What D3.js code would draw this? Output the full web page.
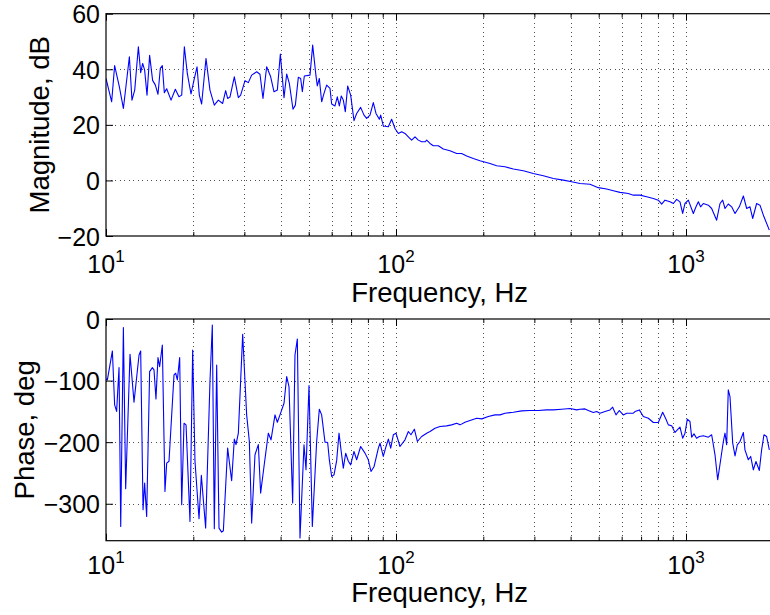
<!DOCTYPE html>
<html><head><meta charset="utf-8">
<script src="https://cdn.jsdelivr.net/npm/d3@7"></script>
<style>
body{margin:0;background:#fff}
svg{display:block}
text{font-family:"Liberation Sans",Arial,Helvetica,sans-serif;fill:#000}
</style>
</head><body>
<svg id="c" width="770" height="615"></svg>
<script>
// ---------- data ----------
const magFreq=[10.0,10.46,10.71,11.12,11.48,12.04,12.29,12.56,12.93,13.17,13.38,13.59,13.85,14.14,14.48,14.80,15.11,15.39,15.64,15.89,16.19,16.76,17.34,17.85,18.24,18.63,19.07,19.64,20.11,20.60,20.98,21.37,22.12,22.83,23.63,24.40,25.25,25.86,26.27,26.76,27.70,28.60,29.13,30.15,30.96,31.79,33.08,33.96,34.78,35.81,36.97,37.96,38.98,39.92,41.10,41.98,42.87,44.14,44.97,46.05,46.91,47.54,48.29,50.52,51.60,52.98,53.54,54.40,55.42,56.46,57.66,59.21,60.0,61.6,62.75,63.76,64.78,65.82,66.88,68.13,69.77,71.64,73.17,75.53,77.56,79.22,81.34,83.52,85.31,87.61,88.54,90.4,94.1,96.6,99.2,101.9,104.6,107.4,110.3,113.2,116.3,119.4,122.6,125.9,127.6,131.0,134.5,139.9,145.6,153.5,161.9,168.4,175.3,184.8,194.8,210.9,222.4,237.6,253.9,274.8,297.5,322.1,348.8,377.6,403.4,431.0,466.6,498.5,532.6,561.6,592.1,632.6,658.2,694.0,731.7,771.5,802.7,824.3,846.4,880.7,904.3,928.5,953.4,973.8,992.0,1018.7,1060,1082.6,1103,1123,1147.5,1194,1226,1275.6,1310,1338,1363,1399,1437,1476,1527,1577,1619,1662,1698,1752,1799,1857,1938];
const magDb=[36.7,28.3,41.3,33.7,25.9,44.5,28.9,32.5,48.1,38.8,42.1,39.7,30.7,45.0,36.0,34.3,31.0,40.3,41.3,31.6,33.0,28.9,32.8,30.1,30.7,48.1,38.5,31.1,36.1,40.9,30.7,27.5,43.9,32.5,27.1,28.9,27.7,32.3,29.5,30.0,37.3,29.8,30.7,35.9,35.2,37.9,39.1,38.2,29.5,40.9,37.3,31.9,32.5,45.5,29.8,38.3,34.9,25.6,27.1,37.1,36.7,31.9,37.6,37.9,48.7,37.6,34.0,36.7,28.3,31.3,34.3,33.1,27.5,26.8,30.1,26.8,30.4,28.9,24.7,34.0,30.7,21.5,24.1,26.3,23.5,22.3,23.5,28.0,24.1,22.0,23.5,19.6,19.3,22.0,18.7,16.9,17.5,16.9,15.7,14.5,15.7,14.5,13.9,13.9,14.5,13.3,12.5,12.5,11.3,10.7,9.7,9.7,8.8,7.9,7.1,6.1,5.3,4.9,4.1,3.5,2.5,1.7,0.7,0.1,-0.5,-1.1,-1.4,-2.6,-3.1,-3.7,-4.3,-4.7,-5.3,-5.3,-5.9,-6.5,-7.1,-8.5,-7.1,-7.7,-8.3,-6.8,-7.7,-11.9,-8.3,-7.1,-11.9,-9.5,-7.7,-9.5,-8.3,-8.9,-10.1,-14.3,-8.3,-7.1,-10.1,-8.5,-9.5,-11.9,-9.5,-5.6,-10.1,-9.5,-13.7,-8.3,-8.9,-13.1,-17.9];

const phaseFreq=[10.0,10.11,10.52,10.71,10.88,11.09,11.24,11.48,11.69,12.10,12.49,13.00,13.17,13.42,13.59,13.81,14.14,14.45,14.64,14.87,15.11,15.31,15.64,15.97,16.19,16.49,17.16,17.39,17.62,17.95,18.24,18.58,18.88,19.48,19.90,20.27,20.93,21.32,22.06,22.83,23.26,23.63,24.08,24.53,25.05,25.39,26.27,27.12,27.70,28.07,28.60,29.60,30.55,31.21,31.79,32.64,33.52,34.14,35.06,36.29,37.07,38.26,38.98,39.81,41.10,41.98,42.76,44.02,44.84,45.69,46.66,48.17,48.94,50.12,51.46,53.26,54.40,55.42,56.90,58.12,58.90,60.0,61.13,62.43,63.60,64.61,65.82,67.06,68.50,69.77,71.64,73.17,75.53,78.18,80.27,81.99,83.97,86.92,88.1,90.4,92.4,94.1,95.9,97.9,100,103.2,107.4,110.3,112.6,115.7,118.5,122.6,127.6,131.0,136.3,141.8,149.4,155.5,161.9,166.3,172.9,179.9,189.8,197.6,208.1,219.5,228.4,237.6,253.9,271.2,289.7,309.4,330.4,348.8,372.6,398.1,419.7,431.0,448.4,460.4,479.1,492.0,505.2,525.6,546.9,558.6,573.6,589.0,608.0,624.3,658.2,667.0,690.3,712.6,741.6,771.5,802.7,830.9,853.1,869.2,892.5,916.4,933.5,953.4,973.8,992.0,1010.6,1032,1046,1065.5,1088,1112,1147.5,1194,1226,1259,1286,1317,1345,1363,1381,1399,1418,1449,1476,1503,1535,1577,1597,1640,1671,1707,1743,1790,1823,1857,1897,1938];
const phaseDeg=[-97,-99,-51.9,-139.5,-150,-79,-336.8,-14,-275.7,-57.3,-135,-58.4,-51.9,-309.7,-266.5,-320.5,-85.4,-79,-82.7,-129.7,-62.7,-77.3,-42.2,-280,-234,-231,-90.8,-88.1,-99,-62.7,-301.6,-169.2,-171.9,-328.6,-50.3,-231,-324.3,-254,-339.5,-101.6,-9.7,-340.5,-74.6,-339.5,-346,-343.8,-209.7,-262.7,-195,-204,-185.4,-24.9,-155.7,-198.9,-331.4,-220.5,-204,-282.7,-239.5,-185.4,-196.2,-155.7,-167.6,-155.7,-136.8,-93.5,-109.7,-298.9,-58.4,-32.4,-355.7,-204.3,-244.9,-108.1,-336.8,-198.9,-146.5,-155.7,-200,-200.5,-228.6,-255.7,-253,-230,-185.4,-212.4,-242.2,-218,-231,-236.8,-215.1,-228.6,-207,-217.8,-228.6,-247.6,-240,-209.7,-201.6,-223.2,-207,-195.1,-209.7,-188,-185.4,-207,-196.2,-182.7,-188,-178.9,-198.9,-190.8,-185.4,-182.7,-177.3,-174.6,-173.5,-171.9,-169.2,-171.9,-167.6,-164.9,-161.1,-162.2,-158.4,-155.7,-155.7,-153,-151.4,-149.2,-148.6,-148.6,-147.6,-147.6,-146.5,-145.4,-147.6,-146.5,-146,-148.6,-151.9,-150.3,-153,-150.3,-147.6,-143.2,-155.7,-148.6,-155.7,-153,-153,-150.3,-147.6,-158.4,-161.1,-168.1,-168.1,-151.4,-162.7,-171.9,-173.5,-184.3,-180,-175.7,-193.5,-185.4,-162.7,-166.5,-191.9,-186.5,-193.5,-190.8,-189.7,-191.9,-188,-220.5,-261.1,-228.6,-198.9,-185.4,-204.3,-115.1,-125.9,-201.6,-222.2,-204.3,-198.9,-184.3,-212.4,-228.6,-223.2,-244.9,-231.4,-245.9,-212.4,-188,-190.8,-212.4];

const magTicks=[-20,0,20,40,60];
const phaseTicks=[-300,-200,-100,0];
const xDecadeExps=[1,2,3];
const xLabel="Frequency, Hz";
const magLabel="Magnitude, dB";
const phaseLabel="Phase, deg";

// ---------- layout ----------
const svg=d3.select("#c");
const left=106, right=106+290*Math.log10(200);
const x=d3.scaleLog().domain([10,2000]).range([left,right]);
const minorTicks=[];
for(let d=10; d<2000; d*=10){ for(let k=1;k<10;k++){ const v=d*k; if(v<=2000) minorTicks.push(v);} }
minorTicks.push(2000);
const majors=xDecadeExps.map(e=>Math.pow(10,e));

const fmt=d=>d<0?"\u2212"+Math.abs(d):String(d);

const panels=[
 {top:13.7,bottom:236,domain:[-20,60],ticks:magTicks,freq:magFreq,vals:magDb,ylab:magLabel,ylabX:49,xtickBase:273,xlabBase:302},
 {top:319,bottom:540.7,domain:[-360,0],ticks:phaseTicks,freq:phaseFreq,vals:phaseDeg,ylab:phaseLabel,ylabX:34,xtickBase:574,xlabBase:602}
];

panels.forEach((p,i)=>{
  const y=d3.scaleLinear().domain(p.domain).range([p.bottom,p.top]);
  const g=svg.append("g");
  const cid="clip"+i;
  svg.append("clipPath").attr("id",cid).append("rect")
    .attr("x",left).attr("y",p.top).attr("width",right-left).attr("height",p.bottom-p.top);

  // grid
  const grid=g.append("g").attr("stroke","#505050").attr("stroke-width",1)
     .attr("stroke-dasharray","1,3.5").attr("shape-rendering","crispEdges");
  minorTicks.filter(v=>v>10&&v<2000).forEach(v=>{
    const xx=Math.round(x(v))+0.5;
    grid.append("line").attr("x1",xx).attr("x2",xx).attr("y1",p.top).attr("y2",p.bottom);
  });
  p.ticks.filter(v=>v>p.domain[0]&&v<p.domain[1]).forEach(v=>{
    const yy=Math.round(y(v))+0.5;
    grid.append("line").attr("x1",left).attr("x2",right).attr("y1",yy).attr("y2",yy);
  });

  // data line
  const pts=p.freq.map((f,j)=>[f,p.vals[j]]);
  g.append("path").datum(pts).attr("clip-path","url(#"+cid+")")
    .attr("fill","none").attr("stroke","#0000ff").attr("stroke-width",1.1)
    .attr("stroke-linejoin","round")
    .attr("d",d3.line().x(d=>x(d[0])).y(d=>y(d[1])));

  // y axis (inward ticks)
  const ya=g.append("g").attr("transform",`translate(${left},0)`)
    .call(d3.axisLeft(y).tickValues(p.ticks).tickSize(-7).tickPadding(6).tickFormat(fmt));
  ya.select(".domain").remove();
  ya.selectAll("line").attr("stroke","#000");
  ya.selectAll("text").attr("font-size",25).attr("font-family","Liberation Sans, Arial, sans-serif").attr("dy","0.36em");

  // x axes bottom and top, inward ticks
  const xb=g.append("g").attr("transform",`translate(0,${p.bottom})`)
    .call(d3.axisBottom(x).tickValues(minorTicks).tickSize(-4).tickFormat(""));
  xb.select(".domain").remove();
  xb.selectAll(".tick line").attr("stroke","#000").attr("y2",d=>majors.includes(d)?-7:-4);
  const xt=g.append("g").attr("transform",`translate(0,${p.top})`)
    .call(d3.axisTop(x).tickValues(minorTicks).tickSize(-4).tickFormat(""));
  xt.select(".domain").remove();
  xt.selectAll(".tick line").attr("stroke","#000").attr("y2",d=>majors.includes(d)?7:4);

  // box
  g.append("rect").attr("x",left).attr("y",p.top).attr("width",right-left).attr("height",p.bottom-p.top)
    .attr("fill","none").attr("stroke","#000").attr("stroke-width",1.2);

  // x tick labels with superscripts
  xDecadeExps.forEach(e=>{
    const t=g.append("text").attr("x",x(Math.pow(10,e))).attr("y",p.xtickBase)
      .attr("text-anchor","middle").attr("font-size",25);
    t.append("tspan").text("10");
    t.append("tspan").attr("font-size",17).attr("dy",-11).text(String(e));
  });

  // axis labels
  g.append("text").attr("x",(left+right)/2).attr("y",p.xlabBase).attr("text-anchor","middle")
    .attr("font-size",27.5).text(xLabel);
  g.append("text").attr("transform",`translate(${p.ylabX},${(p.top+p.bottom)/2}) rotate(-90)`)
    .attr("text-anchor","middle").attr("font-size",27.5).text(p.ylab);
});
</script>
</body></html>
